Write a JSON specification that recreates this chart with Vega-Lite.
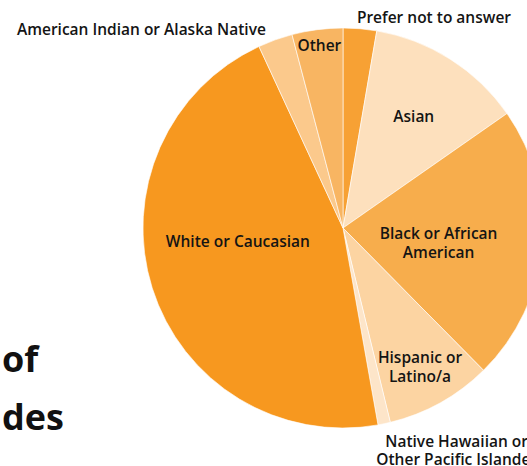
{
  "$schema": "https://vega.github.io/schema/vega-lite/v6.json",
  "width": 368,
  "height": 456,
  "autosize": "none",
  "padding": {"left": 159, "top": 0, "right": 0, "bottom": 10},
  "background": "white",
  "title": {
    "text": ["of", "des"],
    "orient": "top",
    "anchor": "start",
    "frame": "group",
    "align": "left",
    "baseline": "alphabetic",
    "font": "Open Sans",
    "fontSize": 36,
    "fontWeight": "bold",
    "color": "#111111",
    "lineHeight": 58,
    "dx": -157,
    "dy": 470
  },
  "data": {
    "values": [
      {"race": "Prefer not to answer", "value": 2.7, "idx": 1, "label": "Prefer not to answer"},
      {"race": "Asian", "value": 12.6, "idx": 2, "label": "Asian"},
      {"race": "Black or African American", "value": 22.3, "idx": 3, "label": "Black or African\nAmerican"},
      {"race": "Hispanic or Latino/a", "value": 8.6, "idx": 4, "label": "Hispanic or\nLatino/a"},
      {"race": "Native Hawaiian or Other Pacific Islander", "value": 1.0, "idx": 5, "label": "Native Hawaiian or\nOther Pacific Islander"},
      {"race": "White or Caucasian", "value": 45.9, "idx": 6, "label": "White or Caucasian"},
      {"race": "American Indian or Alaska Native", "value": 2.8, "idx": 7, "label": "American Indian or Alaska Native"},
      {"race": "Other", "value": 4.1, "idx": 8, "label": "Other"}
    ]
  },
  "encoding": {
    "theta": {"field": "value", "type": "quantitative", "stack": true},
    "order": {"field": "idx", "type": "quantitative"}
  },
  "layer": [
    {
      "mark": {"type": "arc", "outerRadius": 200, "stroke": "#ffffff", "strokeWidth": 0.6},
      "encoding": {
        "color": {
          "field": "race",
          "type": "nominal",
          "legend": null,
          "scale": {
            "domain": ["Prefer not to answer", "Asian", "Black or African American", "Hispanic or Latino/a", "Native Hawaiian or Other Pacific Islander", "White or Caucasian", "American Indian or Alaska Native", "Other"],
            "range": ["#f7a134", "#fde0bd", "#f7ad4c", "#fcd4a2", "#fde5c9", "#f7981f", "#fbc98c", "#f8b562"]
          }
        }
      }
    },
    {
      "mark": {"type": "text", "radius": 132, "font": "Open Sans", "fontSize": 15.5, "fontWeight": 600, "color": "#141414", "lineBreak": "\n", "lineHeight": 19},
      "encoding": {"text": {"condition": {"test": "datum.race === 'Asian'", "field": "label"}, "value": ""}}
    },
    {
      "mark": {"type": "text", "radius": 96, "dy": -3, "font": "Open Sans", "fontSize": 15.5, "fontWeight": 600, "color": "#141414", "lineBreak": "\n", "lineHeight": 19},
      "encoding": {"text": {"condition": {"test": "datum.race === 'Black or African American'", "field": "label"}, "value": ""}}
    },
    {
      "mark": {"type": "text", "radius": 158, "dy": -8, "font": "Open Sans", "fontSize": 15.5, "fontWeight": 600, "color": "#141414", "lineBreak": "\n", "lineHeight": 19},
      "encoding": {"text": {"condition": {"test": "datum.race === 'Hispanic or Latino/a'", "field": "label"}, "value": ""}}
    },
    {
      "mark": {"type": "text", "radius": 106, "dy": -18, "dx": -4, "font": "Open Sans", "fontSize": 15.5, "fontWeight": 600, "color": "#141414", "lineBreak": "\n", "lineHeight": 19},
      "encoding": {"text": {"condition": {"test": "datum.race === 'White or Caucasian'", "field": "label"}, "value": ""}}
    },
    {
      "mark": {"type": "text", "radius": 184, "font": "Open Sans", "fontSize": 15.5, "fontWeight": 600, "color": "#141414", "lineBreak": "\n", "lineHeight": 19},
      "encoding": {"text": {"condition": {"test": "datum.race === 'Other'", "field": "label"}, "value": ""}}
    },
    {
      "mark": {"type": "text", "radius": 211, "align": "left", "dx": -4, "font": "Open Sans", "fontSize": 15.5, "fontWeight": 600, "color": "#141414", "lineBreak": "\n", "lineHeight": 19},
      "encoding": {"text": {"condition": {"test": "datum.race === 'Prefer not to answer'", "field": "label"}, "value": ""}}
    },
    {
      "mark": {"type": "text", "radius": 212, "align": "center", "dx": 70, "dy": 7, "font": "Open Sans", "fontSize": 15.5, "fontWeight": 600, "color": "#141414", "lineBreak": "\n", "lineHeight": 18},
      "encoding": {"text": {"condition": {"test": "datum.race === 'Native Hawaiian or Other Pacific Islander'", "field": "label"}, "value": ""}}
    },
    {
      "mark": {"type": "text", "radius": 210, "align": "right", "dx": -6, "font": "Open Sans", "fontSize": 15.5, "fontWeight": 600, "color": "#141414", "lineBreak": "\n", "lineHeight": 19},
      "encoding": {"text": {"condition": {"test": "datum.race === 'American Indian or Alaska Native'", "field": "label"}, "value": ""}}
    }
  ]
}
